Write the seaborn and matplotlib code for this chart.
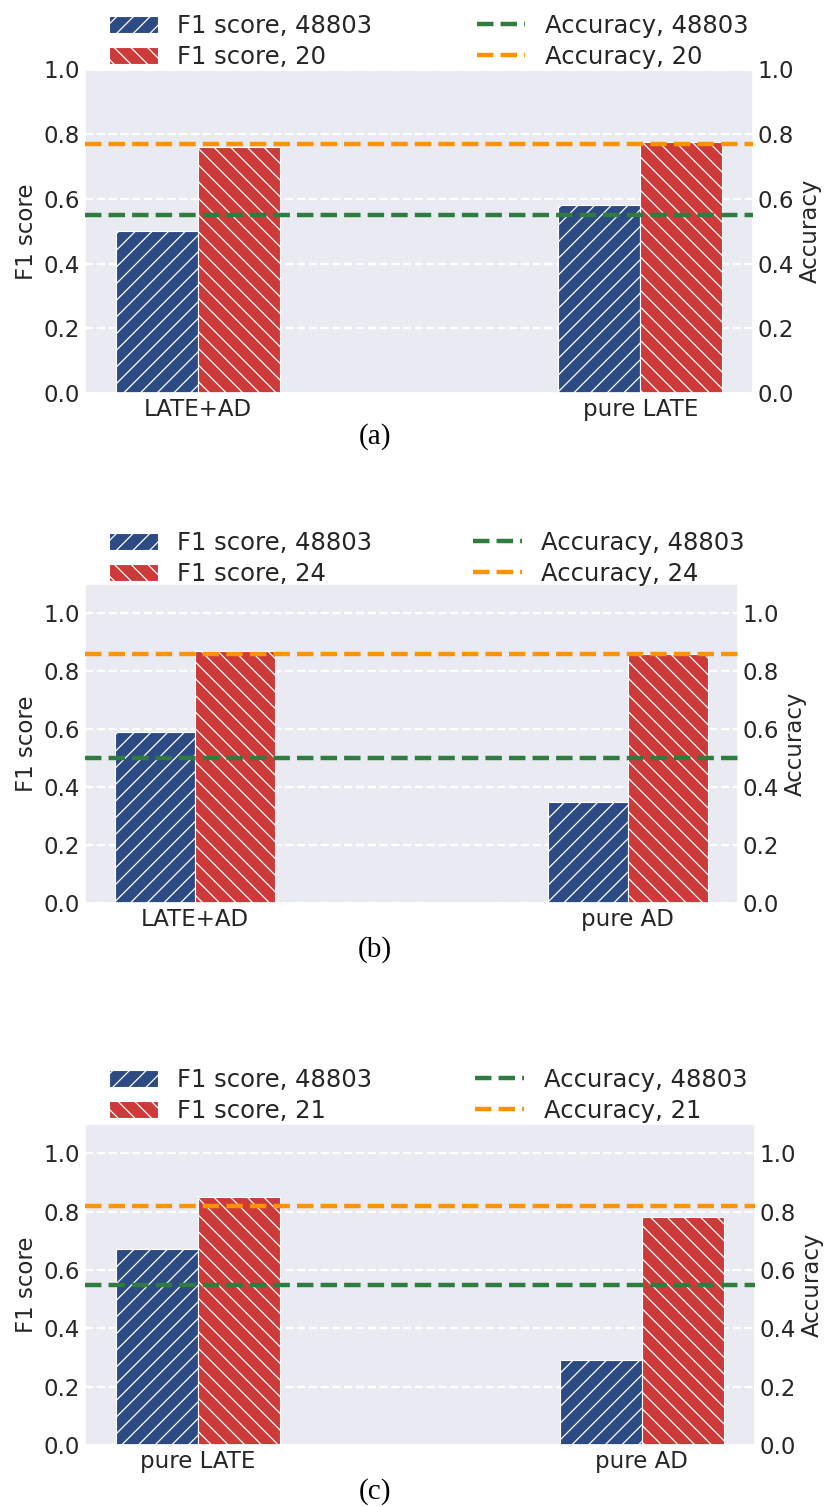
import matplotlib
matplotlib.use("Agg")
import matplotlib.pyplot as plt
import numpy as np
import pandas as pd
import seaborn as sns
from matplotlib.lines import Line2D

# --- data ---
panel_tags = ["(a)", "(b)", "(c)"]
methods_a = ["LATE+AD", "pure LATE"]
methods_b = ["LATE+AD", "pure AD"]
methods_c = ["pure LATE", "pure AD"]
small_sets = ["20", "24", "21"]
big_set = "48803"

f1_big_a = [0.50, 0.58]
f1_small_a = [0.76, 0.775]
f1_big_b = [0.59, 0.35]
f1_small_b = [0.87, 0.86]
f1_big_c = [0.67, 0.29]
f1_small_c = [0.85, 0.78]

acc_big = [0.55, 0.50, 0.55]
acc_small = [0.77, 0.86, 0.82]
y_tops = [1.0, 1.1, 1.1]

# --- style ---
sns.set_theme(style="darkgrid")
plt.rcParams["font.family"] = ["DejaVu Sans"]
plt.rcParams["hatch.linewidth"] = 0.9

blue = "#2c4a84"
red = "#cc3a3a"
green = "#2e7d3f"
orange = "#ff9200"

W, H = 827, 1507
fig = plt.figure(figsize=(W / 100, H / 100), dpi=100)

# axes box in pixels: left, right, top, bottom
boxes = [(85, 753, 69.5, 393), (85, 738, 584, 903), (85, 755, 1124, 1445)]
legend_bottoms = [69, 586, 1123]
col_spacing = [4.3, 4.15, 4.25]
caption_y = [437, 950, 1492]

panels = [
    (methods_a, f1_big_a, f1_small_a),
    (methods_b, f1_big_b, f1_small_b),
    (methods_c, f1_big_c, f1_small_c),
]

for i, (methods, f1_big, f1_small) in enumerate(panels):
    l, r, t, b = boxes[i]
    ax = fig.add_axes([l / W, 1 - b / H, (r - l) / W, (b - t) / H])

    lab_big = f"F1 score, {big_set}"
    lab_small = f"F1 score, {small_sets[i]}"
    df = pd.DataFrame({
        "method": methods * 2,
        "f1": f1_big + f1_small,
        "set": [lab_big] * 2 + [lab_small] * 2,
    })
    sns.barplot(data=df, x="method", y="f1", hue="set", palette=[blue, red],
                saturation=1, width=0.37, edgecolor="white", linewidth=0.8,
                ax=ax, legend=False)
    # hatching: forward slashes for the big set, backslashes for the small one
    for cont, hatch in zip(ax.containers, ["//", "\\\\"]):
        for p in cont:
            p.set_hatch(hatch)

    ax.set_xlim(-0.255, 1.255)
    ax.set_ylim(0, y_tops[i])
    ax.set_yticks(np.arange(0, 1.01, 0.2))
    ax.grid(axis="x", visible=False)
    ax.grid(axis="y", linestyle="--", color="white", linewidth=1.6)
    ax.set_xlabel("")
    ax.set_ylabel("F1 score", fontsize=16.5, labelpad=4)
    ax.tick_params(axis="both", labelsize=16.5, pad=3.5, length=0)

    ax2 = ax.twinx()
    ax2.set_ylim(0, y_tops[i])
    ax2.set_yticks(np.arange(0, 1.01, 0.2))
    ax2.grid(False)
    for sp in ax2.spines.values():
        sp.set_visible(False)
    ax2.axhline(acc_big[i], color=green, linestyle="--", linewidth=3.2)
    ax2.axhline(acc_small[i], color=orange, linestyle="--", linewidth=3.2)
    ax2.set_ylabel("Accuracy", fontsize=16.5, labelpad=3)
    ax2.tick_params(axis="y", labelsize=16.5, pad=3.5, length=0)

    handles = [
        ax.containers[0][0],
        ax.containers[1][0],
        Line2D([], [], color=green, linestyle="--", linewidth=3.2),
        Line2D([], [], color=orange, linestyle="--", linewidth=3.2),
    ]
    labels = [lab_big, lab_small,
              f"Accuracy, {big_set}", f"Accuracy, {small_sets[i]}"]
    ax2.legend(handles, labels, ncol=2, loc="lower left", frameon=False,
               bbox_to_anchor=(109 / W, 1 - legend_bottoms[i] / H),
               bbox_transform=fig.transFigure, borderpad=0, borderaxespad=0,
               fontsize=17.5, labelspacing=0.3, columnspacing=col_spacing[i],
               handlelength=2.0, handletextpad=0.8)

    fig.text(375 / W, 1 - caption_y[i] / H, panel_tags[i], ha="center", va="center",
             fontsize=21, family=["Liberation Serif", "DejaVu Serif"], color="black")

fig.savefig("out.png", dpi=100)
